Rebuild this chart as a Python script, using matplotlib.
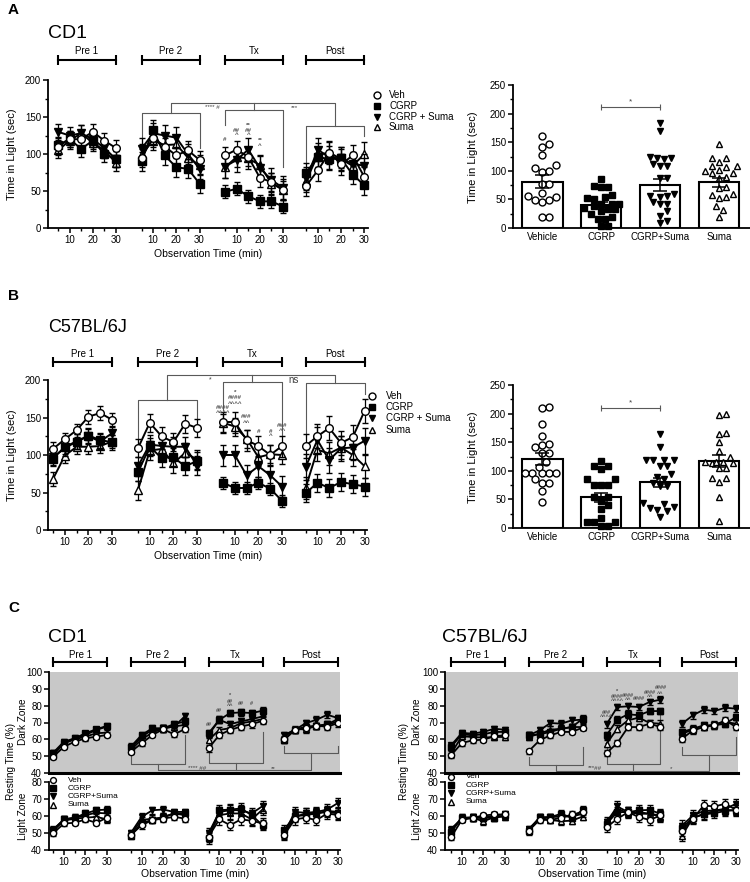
import matplotlib
matplotlib.use("Agg")
import matplotlib.pyplot as plt
import matplotlib.transforms as mtransforms
from matplotlib.ticker import MultipleLocator
import numpy as np

plt.rcParams['font.family'] = ['Liberation Sans', 'DejaVu Sans']

W, H = 750, 882

# ---------------- data ----------------
TIMES = [5, 10, 15, 20, 25, 30]
PHASES = ['Pre 1', 'Pre 2', 'Tx', 'Post']
PHASE_OFFSET = [0, 36, 72, 107]
SERIES = ['Veh', 'CGRP', 'CGRP + Suma', 'Suma']
SERIES_C = ['Veh', 'CGRP', 'CGRP+Suma', 'Suma']
BAR_GROUPS = ['Vehicle', 'CGRP', 'CGRP+Suma', 'Suma']

# A: CD1, time in light (sec); 4 phases x 6 time points
a_veh = [110, 120, 120, 130, 118, 108, 95, 122, 110, 98, 105, 92,
         98, 106, 96, 68, 62, 51, 57, 78, 102, 86, 98, 69]
a_cgrp = [112, 120, 107, 118, 100, 93, 90, 133, 98, 82, 80, 60,
          49, 53, 43, 36, 36, 29, 75, 96, 93, 94, 72, 58]
a_cs = [130, 125, 128, 120, 108, 93, 107, 128, 125, 122, 100, 80,
        83, 92, 106, 81, 65, 54, 67, 106, 95, 94, 87, 84]
a_suma = [105, 118, 128, 115, 105, 88, 100, 118, 112, 113, 95, 85,
          82, 96, 94, 85, 60, 52, 64, 99, 102, 93, 84, 100]
a_sem = [[11, 12, 12, 14], [11, 13, 9, 13], [11, 14, 16, 16], [11, 13, 14, 16]]

# B: C57BL/6J, time in light (sec)
b_veh = [108, 121, 133, 151, 156, 147, 109, 143, 125, 117, 142, 136,
         144, 144, 120, 112, 100, 112, 112, 125, 136, 116, 124, 159]
b_cgrp = [95, 111, 118, 126, 120, 117, 77, 111, 96, 97, 85, 92,
          63, 56, 56, 63, 55, 39, 49, 63, 56, 64, 61, 58]
b_cs = [97, 109, 118, 125, 118, 129, 85, 114, 112, 111, 111, 86,
        100, 100, 73, 85, 73, 58, 84, 120, 93, 109, 110, 119]
b_suma = [68, 99, 111, 111, 112, 118, 53, 106, 108, 89, 103, 94,
          143, 138, 122, 97, 101, 100, 56, 107, 102, 110, 100, 85]
b_sem = [[9, 12, 14, 16], [10, 12, 8, 12], [10, 13, 14, 17], [9, 13, 12, 15]]

# bar charts: means, SEM and individual animals
a_bar_mean = [81, 41, 75, 80]
a_bar_sem = [11, 5, 10, 8]
a_pts_veh = [147, 141, 161, 128, 105, 98, 100, 110, 77, 77, 61, 55, 56, 45, 49, 49, 20, 20]
a_pts_cgrp = [86, 72, 72, 74, 58, 52, 51, 54, 42, 42, 38, 42, 33, 29, 35, 33, 15, 25, 20, 4, 4, 16]
a_pts_cs = [184, 170, 122, 120, 123, 124, 109, 109, 112, 88, 87, 56, 55, 60, 56, 42, 45, 42, 29, 21, 12, 8]
a_pts_suma = [147, 123, 123, 115, 108, 108, 106, 102, 100, 96, 96, 88, 90, 70, 71, 59, 52, 54, 58, 38, 32, 20]

b_bar_mean = [121, 54, 80, 117]
b_bar_sem = [10, 8, 8, 10]
b_pts_veh = [211, 210, 181, 161, 141, 131, 131, 147, 145, 115, 97, 97, 97, 96, 97, 106, 78, 85, 78, 64, 45]
b_pts_cgrp = [118, 108, 103, 108, 85, 85, 76, 76, 76, 55, 48, 41, 55, 33, 10, 10, 17, 10, 3, 3]
b_pts_cs = [164, 142, 119, 119, 119, 119, 94, 109, 109, 90, 85, 78, 73, 73, 44, 35, 32, 20, 29, 42, 36]
b_pts_suma = [197, 199, 164, 166, 151, 135, 124, 113, 116, 113, 115, 115, 105, 105, 87, 81, 87, 54, 13]

# C: resting time (%) in dark and light zones
cl_d_veh = [49.6, 55.6, 58.6, 60.6, 61.6, 62.6, 52.6, 57.6, 62.6, 66, 63, 66,
            54.6, 62.6, 65.6, 67.6, 69, 71, 60, 65.6, 66.6, 68, 67.6, 69.6]
cl_d_cgrp = [51.6, 57.6, 60.6, 63.6, 66, 68, 55.6, 62.6, 66.6, 66.6, 69, 70.6,
             63.6, 71.6, 75.6, 76, 75.6, 77, 59.6, 65.6, 67.6, 68, 69, 72]
cl_d_cs = [52, 58.6, 60.6, 62.6, 65.6, 67.6, 54.6, 61.6, 65.6, 66.6, 67.6, 73.6,
           62.6, 71.6, 69, 70.6, 72, 73.6, 62.6, 65.6, 69.6, 71.6, 74.6, 72.6]
cl_d_suma = [50.6, 57.6, 60, 61.6, 63.6, 64, 53.6, 60, 64, 66.6, 67.6, 68.6,
             59.6, 65.6, 66.6, 69.6, 70.6, 72, 61.6, 66, 66, 68, 68.6, 70.6]
cl_l_veh = [49.8, 55.6, 56, 58, 56, 59, 48.8, 54.6, 57.6, 58.5, 59.5, 58.5,
            47.8, 58, 54.6, 58, 57.2, 55.6, 48.8, 58, 59, 57.6, 61.5, 60.5]
cl_l_cgrp = [52, 58, 59, 61.5, 63.4, 63.8, 48.2, 56, 57.6, 59.5, 61.5, 61.5,
             46.8, 63.4, 63.8, 64.4, 60.5, 54.6, 52, 59.9, 60.5, 61.5, 62.4, 61.5]
cl_l_cs = [51.7, 58, 59, 60.5, 61.9, 61.5, 50, 59.5, 63.4, 63.8, 62.4, 62.4,
           49.8, 62.4, 63.4, 63.4, 61.5, 65.8, 49.8, 62.4, 61.9, 62.4, 63.8, 67.7]
cl_l_suma = [51.3, 57.2, 58.5, 59, 59.5, 58, 49.4, 57.6, 58.5, 59, 61.5, 60.5,
             48.8, 60.5, 61.5, 61.5, 58, 63.8, 49.4, 59.5, 61.5, 61.5, 63, 62.4]

cr_d_veh = [50.5, 57.8, 59.4, 59.8, 61.8, 62.4, 53, 59.4, 62.4, 64.4, 64.4, 67,
            51.9, 57.8, 67.3, 67.3, 69.3, 67.3, 60.4, 65.3, 67.3, 68.3, 71.3, 67.3]
cr_d_cgrp = [55.4, 63, 62.4, 63, 64.4, 64.4, 62.4, 63, 64.4, 66.3, 67.3, 72.3,
             62.4, 71.7, 74.9, 74.3, 76.8, 76.8, 64.4, 66.3, 68.3, 68.3, 69.3, 73.3]
cr_d_cs = [56.4, 63.8, 63.4, 64.4, 66.3, 65.7, 62.4, 65.3, 69.7, 69.3, 71.3, 71.7,
           68.9, 79.2, 79.6, 79.2, 82.2, 83.6, 69.3, 74.3, 77.6, 76.8, 78.8, 78.2]
cr_d_suma = [51.5, 61.8, 61.4, 61, 61.4, 61.4, 61.4, 63.4, 65.7, 66.3, 67.3, 67.3,
             57.4, 66.3, 71.3, 72.9, 69.7, 69.3, 63.4, 65.7, 67.3, 68.9, 70.3, 69.3]
cr_l_veh = [47.5, 57.7, 58.9, 60.3, 60.9, 60.9, 51.4, 57.7, 57.7, 58.9, 60.9, 62.3,
            53.4, 58.3, 62.3, 59.3, 57.7, 60.3, 51.4, 58.3, 66.2, 65.6, 67.2, 63.6]
cr_l_cgrp = [50.4, 58.9, 58.9, 58.9, 58.9, 60.3, 51, 59.3, 59.3, 61.3, 58.9, 63.6,
             55.4, 62.3, 62.3, 63.3, 63.6, 61.3, 53, 58.9, 60.9, 61.7, 62.9, 63.6]
cr_l_cs = [51.8, 58.9, 59.3, 58.9, 60.3, 60.9, 52.4, 58.9, 59.3, 59.7, 59.7, 61.3,
           56.4, 65.6, 62.3, 61.3, 61.3, 60.3, 54.4, 60.3, 62.9, 63.3, 64.2, 67.2]
cr_l_suma = [52.4, 58.3, 58.9, 56.9, 59.3, 59.7, 51.8, 58.9, 57.7, 56.9, 57.3, 59.7,
             55.4, 64.2, 61.7, 62.3, 61.3, 59.7, 48.5, 58.9, 61.3, 62.9, 63.6, 63.2]
c_dark_sem = [[1.5, 1.5, 2, 2], [1.5, 2, 2, 2], [1.5, 2, 2, 2], [1.5, 2, 2, 2]]
c_light_sem = [[1.5, 2, 3, 3], [2, 2, 3, 3], [2, 2, 3, 3], [2, 2, 3, 3]]

# post-hoc marks above the Tx time points: (minute, text, y)
a_marks = [(5, '#', 119), (10, '##', 132), (10, '^', 126), (15, '**', 139), (15, '##', 132),
           (15, '^', 126), (20, '**', 118), (20, '^', 111)]
b_marks = [(5, '####', 164), (5, '^^^^', 157), (10, '*', 184), (10, '####', 177), (10, '^^^^', 169),
           (15, '###', 151), (15, '^^', 144), (20, '#', 132), (25, '#', 132), (25, '^', 126),
           (30, '###', 140), (30, '^^', 133)]
cl_marks = [(5, '##', 68.6), (10, '##', 77), (15, '*', 86), (15, '##', 82.6), (15, '^^', 80),
            (20, '##', 81.2), (25, '#', 81.2)]
cr_marks = [(5, '###', 76.2), (5, '^^^^', 73.7), (10, '*', 88.7), (10, '####', 85.5), (10, '^^^^', 83.2),
            (15, '####', 86.1), (15, '^^', 83.6), (20, '####', 84.2), (25, '####', 88.1), (25, '^^', 85.5),
            (30, '####', 90.7), (30, '^^', 87.5)]

STYLE = [('o', 'white'), ('s', 'black'), ('v', 'black'), ('^', 'white')]
BR = '0.35'

fig = plt.figure(figsize=(W / 100, H / 100), dpi=100)


def px_axes(l, t, r, b):
    return fig.add_axes([l / W, 1 - b / H, (r - l) / W, (b - t) / H])


def ftext(x, y, s, **kw):
    kw.setdefault('ha', 'center')
    kw.setdefault('va', 'center')
    fig.text(x / W, 1 - y / H, s, **kw)


def setup_course(ax, xlim, ylim, ymajor, yminor=None, fs=7):
    ax.set_xlim(*xlim)
    ax.set_ylim(*ylim)
    for s in ['top', 'right']:
        ax.spines[s].set_visible(False)
    for s in ['left', 'bottom']:
        ax.spines[s].set_linewidth(1.3)
    major = [PHASE_OFFSET[p] + t for p in range(4) for t in (10, 20, 30)]
    minor = [PHASE_OFFSET[p] + t for p in range(4) for t in (5, 15, 25)]
    ax.set_xticks(major, labels=['10', '20', '30'] * 4)
    ax.set_xticks(minor, minor=True)
    ax.yaxis.set_major_locator(MultipleLocator(ymajor))
    if yminor:
        ax.yaxis.set_minor_locator(MultipleLocator(yminor))
    ax.tick_params(which='major', length=3.5, width=1.1, labelsize=fs, pad=1.5)
    ax.tick_params(which='minor', length=2, width=1.0)
    ax.patch.set_alpha(0)


def draw_course(ax, series, sems, ms=5.5, lw=1.4):
    for k in range(3, -1, -1):
        mk, fc = STYLE[k]
        for p in range(4):
            xs = [PHASE_OFFSET[p] + t for t in TIMES]
            ys = series[k][p * 6:(p + 1) * 6]
            ax.errorbar(xs, ys, yerr=sems[k][p], color='black', lw=lw, elinewidth=0.9,
                        capsize=2.5, capthick=0.9, marker=mk, mfc=fc, mec='black',
                        ms=ms, mew=1.0, zorder=10 - k, clip_on=False)


def phase_bars(ax, ybar, ylab, fs=7):
    tr = mtransforms.blended_transform_factory(ax.transData, ax.transAxes)
    for p, name in enumerate(PHASES):
        x0, x1 = PHASE_OFFSET[p] + 5, PHASE_OFFSET[p] + 30
        ax.plot([x0, x1], [ybar, ybar], transform=tr, color='black', lw=1.5,
                marker='|', ms=7, mew=1.5, clip_on=False)
        ax.text((x0 + x1) / 2, ylab, name, transform=tr, ha='center', va='center', fontsize=fs)


def brackets(ax, spec, top, labels, label_y, label_fs):
    mids = []
    for p, (yh, yl, yr) in zip([1, 2, 3], spec):
        x0, x1 = PHASE_OFFSET[p] + 5, PHASE_OFFSET[p] + 30
        ax.plot([x0, x0, x1, x1], [yl, yh, yh, yr], color=BR, lw=0.8, clip_on=False, zorder=1)
        mids.append(((x0 + x1) / 2, yh))
    ax.plot([mids[0][0], mids[0][0], mids[2][0], mids[2][0]],
            [mids[0][1], top, top, mids[2][1]], color=BR, lw=0.8, clip_on=False, zorder=1)
    ax.plot([mids[1][0], mids[1][0]], [mids[1][1], top], color=BR, lw=0.8, clip_on=False, zorder=1)
    for (xa, xb, lab, fs) in [(mids[0][0], mids[1][0], labels[0], label_fs[0]),
                              (mids[1][0], mids[2][0], labels[1], label_fs[1])]:
        ax.text((xa + xb) / 2, label_y, lab, ha='center', va='center', fontsize=fs,
                color='0.25', clip_on=False)


def marks(ax, lst, fs=4.5):
    for t, s, y in lst:
        ax.text(PHASE_OFFSET[2] + t, y, s, ha='center', va='center', fontsize=fs,
                color='0.3', fontweight='bold', clip_on=False, zorder=20)


def swarm(vals, xscale, yscale, d=7.0, maxoff=19.0):
    # deterministic beeswarm in pixel space, kept inside the bar
    placed = []
    res = np.zeros(len(vals))
    cands = [0.0]
    step = d / 2
    j = 1
    while j * step <= maxoff:
        cands += [j * step, -j * step]
        j += 1
    for i in np.argsort(vals):
        y = vals[i] * yscale
        best, best_gap = 0.0, -1
        for c in cands:
            gap = min([np.hypot(c - px, y - py) for px, py in placed] + [99])
            if gap >= d:
                best = c
                break
            if gap > best_gap:
                best, best_gap = c, gap
        placed.append((best, y))
        res[i] = best / xscale
    return res


def draw_bars(ax, means, sems, pts, sig_y):
    x = np.arange(4)
    ax.set_xlim(-0.5, 3.52)
    ax.set_ylim(0, 250)
    ax.bar(x, means, width=0.68, color='white', edgecolor='black', lw=1.5, zorder=1)
    ax.errorbar(x, means, yerr=sems, fmt='none', ecolor='black', elinewidth=1.1,
                capsize=5, capthick=1.1, zorder=4)
    yscale = 143 / 250
    for k, vals in enumerate(pts):
        mk, fc = STYLE[k]
        off = swarm(vals, 59.0, yscale)
        ax.plot(k + off, vals, ls='none', marker=mk, mfc=fc, mec='black', ms=5, mew=1.0,
                zorder=3, clip_on=False)
    ax.plot([1, 2], [sig_y, sig_y], color=BR, lw=0.8, marker='|', ms=4, mew=0.8)
    ax.text(1.5, sig_y + 3, '*', ha='center', va='bottom', fontsize=6, color='0.25')
    for s in ['top', 'right']:
        ax.spines[s].set_visible(False)
    for s in ['left', 'bottom']:
        ax.spines[s].set_linewidth(1.3)
    ax.set_xticks(x, labels=BAR_GROUPS)
    ax.yaxis.set_major_locator(MultipleLocator(50))
    ax.yaxis.set_minor_locator(MultipleLocator(25))
    ax.tick_params(axis='x', length=0, labelsize=7, pad=3)
    ax.tick_params(axis='y', which='major', length=3.5, width=1.1, labelsize=7, pad=1.5)
    ax.tick_params(axis='y', which='minor', length=2, width=1.0)


# ---------------- panel A ----------------
axA = px_axes(48, 80, 368, 228)
setup_course(axA, (0.7, 138.6), (0, 200), 50, 25)
draw_course(axA, [a_veh, a_cgrp, a_cs, a_suma], a_sem)
phase_bars(axA, 1.135, 1.195)
brackets(axA, [(156, 112, 108), (159.5, 139, 83), (138, 87, 124)], 168.5,
         ['**** #', '***'], 163, [4.5, 4.5])
marks(axA, a_marks)

axAb = px_axes(513, 85, 750, 228)
draw_bars(axAb, a_bar_mean, a_bar_sem, [a_pts_veh, a_pts_cgrp, a_pts_cs, a_pts_suma], 211)

# ---------------- panel B ----------------
axB = px_axes(48, 380, 367, 530)
setup_course(axB, (2.9, 138), (0, 200), 50, 25)
draw_course(axB, [b_veh, b_cgrp, b_cs, b_suma], b_sem)
phase_bars(axB, 1.12, 1.175)
brackets(axB, [(173, 111, 147), (198, 160, 125), (195.6, 125, 182)], 207,
         ['*', 'ns'], 200, [5, 7])
marks(axB, b_marks)

axBb = px_axes(513, 385, 750, 528)
draw_bars(axBb, b_bar_mean, b_bar_sem, [b_pts_veh, b_pts_cgrp, b_pts_cs, b_pts_suma], 209)


# ---------------- panel C ----------------
def panel_c(l, r, xlim, dark, light, spec, top, labels, mk_list):
    axd = px_axes(l, 672, r, 773)
    axl = px_axes(l, 782, r, 850)
    setup_course(axd, xlim, (40, 100), 10)
    axd.patch.set_alpha(1)
    axd.set_facecolor('#c8c8c8')
    axd.spines['bottom'].set_linewidth(2.2)
    axd.tick_params(axis='x', which='both', length=0, labelbottom=False)
    setup_course(axl, xlim, (40, 80), 10)
    draw_course(axd, dark, c_dark_sem, ms=4.5, lw=1.3)
    draw_course(axl, light, c_light_sem, ms=4.5, lw=1.3)
    for a in (axd, axl):
        for ln in a.lines:
            ln.set_clip_on(True)
    phase_bars(axd, 1.10, 1.17)
    brackets(axd, spec, top, labels, top + 1.3, [4.5, 4.5])
    marks(axd, mk_list, fs=4)
    return axd, axl


panel_c(49, 340, (3.1, 137.9),
        [cl_d_veh, cl_d_cgrp, cl_d_cs, cl_d_suma], [cl_l_veh, cl_l_cgrp, cl_l_cs, cl_l_suma],
        [(45.6, 51.6, 62.6), (46, 64.6, 64.6), (51.6, 56, 56)], 41.6, ['**** ##', '**'], cl_marks)
panel_c(445, 738, (2.2, 137.9),
        [cr_d_veh, cr_d_cgrp, cr_d_cs, cr_d_suma], [cr_l_veh, cr_l_cgrp, cr_l_cs, cr_l_suma],
        [(44.6, 49.5, 55.4), (45.5, 63.8, 76.2), (50.5, 55.4, 61.4)], 41.2, ['***##', '*'], cr_marks)

# ---------------- labels and legends (pixel overlay) ----------------
ov = fig.add_axes([0, 0, 1, 1], zorder=50)
ov.set_xlim(0, W)
ov.set_ylim(H, 0)
ov.axis('off')


def legend_rows(x_mark, x_text, y0, dy, labels, ms, fs):
    for k, lab in enumerate(labels):
        mk, fc = STYLE[k]
        ov.plot([x_mark], [y0 + k * dy], ls='none', marker=mk, mfc=fc, mec='black', ms=ms, mew=1.0)
        ov.text(x_text, y0 + k * dy, lab, ha='left', va='center', fontsize=fs)


legend_rows(377, 389, 95, 10.8, SERIES, 5, 7)
legend_rows(372, 386, 396, 11.2, SERIES, 5, 7)
legend_rows(53, 68, 780, 8.2, SERIES_C, 4.2, 6)
legend_rows(451, 466, 777, 8.2, SERIES_C, 4.2, 6)

ftext(8, 10, 'A', fontsize=11, fontweight='bold', ha='left')
ftext(48, 34, 'CD1', fontsize=14, ha='left')
ftext(8, 296, 'B', fontsize=11, fontweight='bold', ha='left')
ftext(48, 327, 'C57BL/6J', fontsize=13, ha='left')
ftext(8, 608, 'C', fontsize=11, fontweight='bold', ha='left')
ftext(48, 638, 'CD1', fontsize=14, ha='left')
ftext(442, 638, 'C57BL/6J', fontsize=14, ha='left')

for yc in (154, 455):
    ftext(12, yc, 'Time in Light (sec)', fontsize=8, rotation=90)
for yc in (157, 457):
    ftext(473, yc, 'Time in Light (sec)', fontsize=8, rotation=90)
ftext(208, 254, 'Observation Time (min)', fontsize=7.5)
ftext(208, 556, 'Observation Time (min)', fontsize=7.5)
ftext(195, 874, 'Observation Time (min)', fontsize=7.5)
ftext(592, 874, 'Observation Time (min)', fontsize=7.5)

for xr, xz in ((11, 23), (404, 417)):
    ftext(xr, 761, 'Resting Time (%)', fontsize=7.2, rotation=90)
    ftext(xz, 722, 'Dark Zone', fontsize=7.2, rotation=90)
    ftext(xz, 816, 'Light Zone', fontsize=7.2, rotation=90)

fig.savefig('out.png', dpi=100)
